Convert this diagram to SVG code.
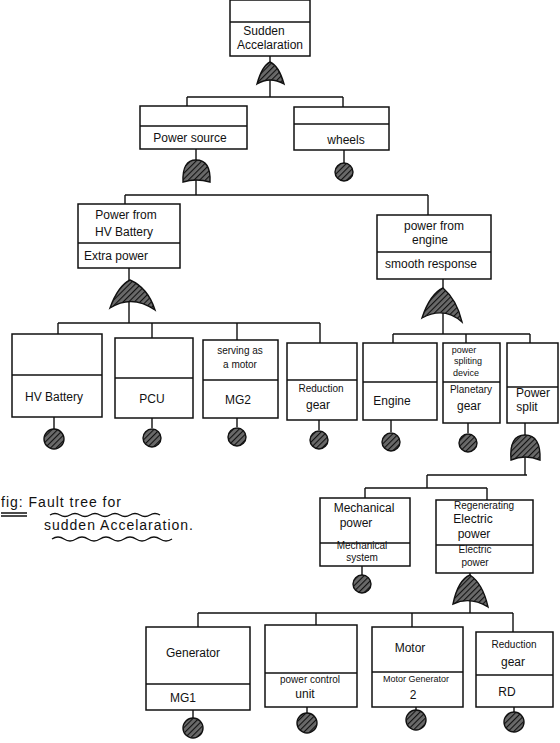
<svg xmlns="http://www.w3.org/2000/svg" width="560" height="743" viewBox="0 0 560 743">
<style>
.box{fill:#fff;stroke:#111;stroke-width:1.5}
.div{stroke:#111;stroke-width:1.3}
.ln{fill:none;stroke:#111;stroke-width:1.4}
.gate{fill:url(#hatch);stroke:#111;stroke-width:1.4}
.ev{fill:url(#hatch);stroke:#111;stroke-width:1.4}
text{font-family:"Liberation Sans",Arial,sans-serif;font-size:12px;fill:#111;text-anchor:middle}
.s{font-size:10px}
.xs{font-size:9px}
.cap{font-size:14px;text-anchor:start;letter-spacing:1px}
</style>
<defs>
<pattern id="hatch" width="4" height="4" patternUnits="userSpaceOnUse" patternTransform="rotate(45)">
<rect width="4" height="4" fill="#6a6a6a"/>
<line x1="0" y1="0" x2="0" y2="4" stroke="#111" stroke-width="2.2"/>
</pattern>
</defs>
<g id="connectors">
<path class="ln" d="M270 56V97M187 97H343M187 97V106M343 97V107"/>
<path class="ln" d="M196 149V195M125 195H428M125 195V204M428 195V215M344 150V164"/>
<path class="ln" d="M129 268V323M58 323H320M58 323V334M152 323V338M237 323V340M320 323V343"/>
<path class="ln" d="M443 279V334M393 334H530M393 334V343M466 334V343M530 334V343"/>
<path class="ln" d="M54 417V429M152 418V428M237 418V427M319 420V430M391 420V432M468 423V433"/>
<path class="ln" d="M525 423V475M427 475H527M427 475V488M365 488H487M365 488V498M487 488V500"/>
<path class="ln" d="M362 566V575M470 573V613M198 613H513M198 613V627M316 613V625M412 613V627M513 613V632"/>
<path class="ln" d="M193 710V718M307 707V713M416 707V710M514 707V712"/>
</g>
<g id="n_sudden"><rect class="box" x="230" y="0" width="80" height="56"/><line class="div" x1="230" y1="22" x2="310" y2="22"/><text x="264" y="35">Sudden</text><text x="270" y="49">Accelaration</text></g>
<g id="g_top"><path class="gate" d="M257 84Q262 66 270 62Q279 66 284 84Q270 76 257 84Z"/></g>
<g id="n_power_source"><rect class="box" x="140" y="106" width="107" height="43"/><line class="div" x1="140" y1="126" x2="247" y2="126"/><text x="190" y="142">Power source</text></g>
<g id="g_ps"><path class="gate" d="M183 182Q182 160 196 160Q211 160 210 182Q196 178 183 182Z"/></g>
<g id="n_wheels"><rect class="box" x="294" y="107" width="95" height="43"/><line class="div" x1="294" y1="124" x2="389" y2="124"/><text x="346" y="144">wheels</text></g>
<g id="e_wheels"><circle class="ev" cx="344" cy="172" r="9"/></g>
<g id="n_hv"><rect class="box" x="78" y="204" width="102" height="64"/><line class="div" x1="78" y1="243" x2="180" y2="243"/><text x="126" y="219">Power from</text><text x="124" y="236">HV Battery</text><text x="116" y="260">Extra power</text></g>
<g id="g_hv"><path class="gate" d="M110 308Q118 286 130 280Q148 288 155 310Q132 294 110 308Z"/></g>
<g id="n_engine"><rect class="box" x="377" y="215" width="114" height="64"/><line class="div" x1="377" y1="252" x2="491" y2="252"/><text x="434" y="230">power from</text><text x="430" y="244">engine</text><text x="431" y="268">smooth response</text></g>
<g id="g_engine"><path class="gate" d="M422 318Q430 294 443 288Q457 300 462 322Q444 306 422 318Z"/></g>
<g id="n_hvb"><rect class="box" x="12" y="334" width="90" height="83"/><line class="div" x1="12" y1="375" x2="102" y2="375"/><text x="54" y="401">HV Battery</text></g>
<g id="e_hvb"><circle class="ev" cx="54" cy="439" r="10"/></g>
<g id="n_pcu"><rect class="box" x="115" y="338" width="78" height="80"/><line class="div" x1="115" y1="378" x2="193" y2="378"/><text x="152" y="403">PCU</text></g>
<g id="e_pcu"><circle class="ev" cx="152" cy="438" r="9"/></g>
<g id="n_mg2"><rect class="box" x="203" y="340" width="75" height="78"/><line class="div" x1="203" y1="380" x2="278" y2="380"/><text class="s" x="240" y="354">serving as</text><text class="s" x="240" y="368">a motor</text><text x="238" y="404">MG2</text></g>
<g id="e_mg2"><circle class="ev" cx="237" cy="437" r="9"/></g>
<g id="n_rgear"><rect class="box" x="287" y="343" width="70" height="77"/><line class="div" x1="287" y1="380" x2="357" y2="380"/><text class="s" x="321" y="392">Reduction</text><text x="318" y="409">gear</text></g>
<g id="e_rgear"><circle class="ev" cx="319" cy="440" r="9"/></g>
<g id="n_eng2"><rect class="box" x="363" y="343" width="74" height="77"/><line class="div" x1="363" y1="382" x2="437" y2="382"/><text x="392" y="405">Engine</text></g>
<g id="e_eng2"><circle class="ev" cx="391" cy="442" r="9"/></g>
<g id="n_psd"><rect class="box" x="443" y="343" width="57" height="80"/><line class="div" x1="443" y1="382" x2="500" y2="382"/><text class="xs" x="464" y="353">power</text><text class="xs" x="468" y="364">spliting</text><text class="xs" x="466" y="376">device</text><text class="s" x="471" y="393">Planetary</text><text x="469" y="410">gear</text></g>
<g id="e_psd"><circle class="ev" cx="468" cy="443" r="9"/></g>
<g id="n_psplit"><rect class="box" x="507" y="343" width="51" height="80"/><line class="div" x1="507" y1="387" x2="558" y2="387"/><text x="533" y="397">Power</text><text x="527" y="411">split</text></g>
<g id="g_psplit"><path class="gate" d="M511 460Q509 435 525 435Q541 435 540 460Q525 454 511 460Z"/></g>
<g id="n_mech"><rect class="box" x="320" y="498" width="90" height="68"/><line class="div" x1="320" y1="543" x2="410" y2="543"/><text x="364" y="512">Mechanical</text><text x="356" y="527">power</text><text class="s" x="362" y="549">Mechanical</text><text class="s" x="362" y="561">system</text></g>
<g id="e_mech"><circle class="ev" cx="362" cy="584" r="9"/></g>
<g id="n_regen"><rect class="box" x="436" y="500" width="97" height="73"/><line class="div" x1="436" y1="545" x2="533" y2="545"/><text class="s" x="484" y="509">Regenerating</text><text x="473" y="523">Electric</text><text x="474" y="538">power</text><text class="s" x="475" y="553">Electric</text><text class="s" x="475" y="566">power</text></g>
<g id="g_regen"><path class="gate" d="M453 604Q458 580 470 575Q483 584 488 607Q470 596 453 604Z"/></g>
<g id="n_gen"><rect class="box" x="146" y="627" width="104" height="83"/><line class="div" x1="146" y1="684" x2="250" y2="684"/><text x="193" y="657">Generator</text><text x="183" y="702">MG1</text></g>
<g id="e_gen"><circle class="ev" cx="193" cy="728" r="10"/></g>
<g id="n_pcu2"><rect class="box" x="265" y="625" width="92" height="82"/><line class="div" x1="265" y1="673" x2="357" y2="673"/><text class="s" x="310" y="683">power control</text><text x="305" y="698">unit</text></g>
<g id="e_pcu2"><circle class="ev" cx="307" cy="723" r="10"/></g>
<g id="n_motor"><rect class="box" x="372" y="627" width="91" height="80"/><line class="div" x1="372" y1="672" x2="463" y2="672"/><text x="410" y="652">Motor</text><text class="xs" x="416" y="682">Motor Generator</text><text x="413" y="699">2</text></g>
<g id="e_motor"><circle class="ev" cx="416" cy="720" r="10"/></g>
<g id="n_rgear2"><rect class="box" x="476" y="632" width="77" height="75"/><line class="div" x1="476" y1="675" x2="553" y2="675"/><text class="s" x="514" y="648">Reduction</text><text x="513" y="666">gear</text><text x="507" y="696">RD</text></g>
<g id="e_rgear2"><circle class="ev" cx="514" cy="722" r="10"/></g>
<g id="caption">
<text class="cap" x="1" y="507">fig: Fault tree for</text>
<text class="cap" x="44" y="530">sudden Accelaration.</text>
<path class="ln" d="M1 513H27M1 516H27" stroke-width="1"/>
<path class="ln" d="M50 515q5 -3 10 0t10 0t10 0t10 0t10 0t10 0t10 0t10 0t10 0t10 0t10 0" stroke-width="1"/>
<path class="ln" d="M52 539q6 -4 12 0t12 0t12 0t12 0t12 0t12 0t12 0t12 0t12 0t12 0" stroke-width="1"/>
</g>
</svg>
